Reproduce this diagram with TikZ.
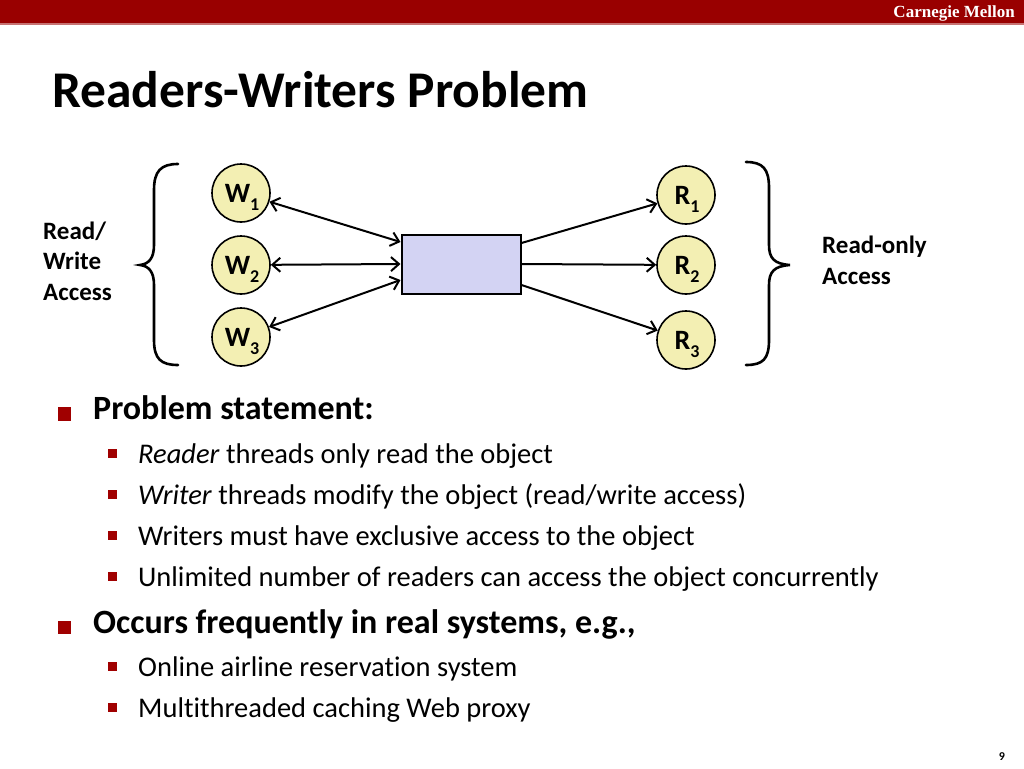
\documentclass[tikz,border=0pt]{standalone}
\usepackage{fontspec}
\setmainfont{Carlito}[Ligatures=NoCommon]
\newfontfamily\hdrfont{Liberation Serif}
\usetikzlibrary{arrows.meta}
\definecolor{cmured}{HTML}{990000}
\definecolor{bulletred}{HTML}{A00000}
\definecolor{thrfill}{HTML}{F3EFB3}
\definecolor{objfill}{HTML}{D3D3F3}
\tikzset{
  thr/.style={circle,draw=black,line width=1.6pt,fill=thrfill,minimum size=58pt,inner sep=0pt,font=\fontsize{28}{30}\selectfont\bfseries},
  obj/.style={draw=black,line width=2pt,fill=objfill,minimum width=119pt,minimum height=59pt,inner sep=0pt},
  conn/.style={line width=2pt,-{Straight Barb[length=8pt,width=14pt,line width=2pt]}},
  biconn/.style={line width=2pt,{Straight Barb[length=8pt,width=14pt,line width=2pt]}-{Straight Barb[length=8pt,width=14pt,line width=2pt]}},
  bracestyle/.style={line width=2.6pt,line cap=round},
  lbl/.style={anchor=base west,inner sep=0pt,font=\fontsize{25}{30.5}\selectfont\bfseries,align=left},
  lvl1/.style={anchor=base west,inner sep=0pt,font=\fontsize{34}{36}\selectfont\bfseries},
  lvl2/.style={anchor=base west,inner sep=0pt,font=\fontsize{28.5}{30}\selectfont},
  bigbul/.style={fill=bulletred,draw=none,minimum size=13.5pt,inner sep=0pt},
  smallbul/.style={fill=bulletred,draw=none,minimum size=9pt,inner sep=0pt},
}
\newcommand{\thrlabel}[2]{\hspace*{2pt}#1\raisebox{-0.3em}[0pt][0pt]{\fontsize{18}{18}\selectfont #2}}
\begin{document}
\begin{tikzpicture}[x=1pt,y=-1pt]
\useasboundingbox (0,0) rectangle (1024,768);
% header
\fill[cmured] (0,0) rectangle (1024,23);
\fill[cmured!55] (0,23) rectangle (1024,25);
\node[anchor=base east,inner sep=0pt,text=white,font=\hdrfont\fontsize{17}{17}\selectfont\bfseries] (hdr) at (1015,18) {Carnegie Mellon};
% title
\node[anchor=base west,inner sep=0pt,font=\fontsize{51.5}{54}\selectfont\bfseries] (title) at (52,107) {Readers-Writers Problem};
% diagram
\node[thr] (w1) at (241,193) {\thrlabel{W}{1}};
\node[thr] (w2) at (241,265) {\thrlabel{W}{2}};
\node[thr] (w3) at (241,337) {\thrlabel{W}{3}};
\node[thr] (r1) at (686,195) {\thrlabel{R}{1}};
\node[thr] (r2) at (686,265) {\thrlabel{R}{2}};
\node[thr] (r3) at (686,340) {\thrlabel{R}{3}};
\node[obj] (obj) at (461,264) {};
\draw[biconn] (w1) -- ([yshift=22pt]obj.west);
\draw[biconn] (w2) -- (obj.west);
\draw[biconn] (w3) -- ([yshift=-16pt]obj.west);
\draw[conn] ([yshift=21pt]obj.east) -- (r1);
\draw[conn] (obj.east) -- (r2);
\draw[conn] ([yshift=-21pt]obj.east) -- (r3);
% braces
\draw[bracestyle] (178,164) .. controls (161,164) and (154,171) .. (154,190) -- (154,245) .. controls (154,258) and (149,264) .. (140,265) .. controls (149,266) and (154,272) .. (154,285) -- (154,340) .. controls (154,359) and (161,365) .. (178,365);
\draw[bracestyle] (746,162) .. controls (763,162) and (769,169) .. (769,188) -- (769,245) .. controls (769,258) and (774,264) .. (790,265) .. controls (774,266) and (769,272) .. (769,285) -- (769,340) .. controls (769,359) and (763,365) .. (746,365);
\node[lbl] (lrw) at (43,300) {Read/\\Write\\Access};
\node[lbl] (lro) at (822,284) {Read-only\\Access};
% bullets
\node[bigbul] (b1) at (64.5,414) {};
\node[lvl1] (t1) at (93,419) {Problem statement:};
\node[smallbul] (s1) at (112.5,453) {};
\node[lvl2] (u1) at (138,463) {\textit{Reader} threads only read the object};
\node[smallbul] (s2) at (112.5,494) {};
\node[lvl2] (u2) at (138,504) {\textit{Writer} threads modify the object (read/write access)};
\node[smallbul] (s3) at (112.5,535) {};
\node[lvl2] (u3) at (138,545) {Writers must have exclusive access to the object};
\node[smallbul] (s4) at (112.5,576) {};
\node[lvl2] (u4) at (138,586) {Unlimited number of readers can access the object concurrently};
\node[bigbul] (b2) at (64.5,627.5) {};
\node[lvl1] (t2) at (93,633) {Occurs frequently in real systems, e.g.,};
\node[smallbul] (s5) at (112.5,666) {};
\node[lvl2] (u5) at (138,676) {Online airline reservation system};
\node[smallbul] (s6) at (112.5,707) {};
\node[lvl2] (u6) at (138,717) {Multithreaded caching Web proxy};
\node[anchor=base,inner sep=0pt,font=\fontsize{12}{12}\selectfont\bfseries] (pg) at (1002,760) {9};
\end{tikzpicture}
\end{document}
